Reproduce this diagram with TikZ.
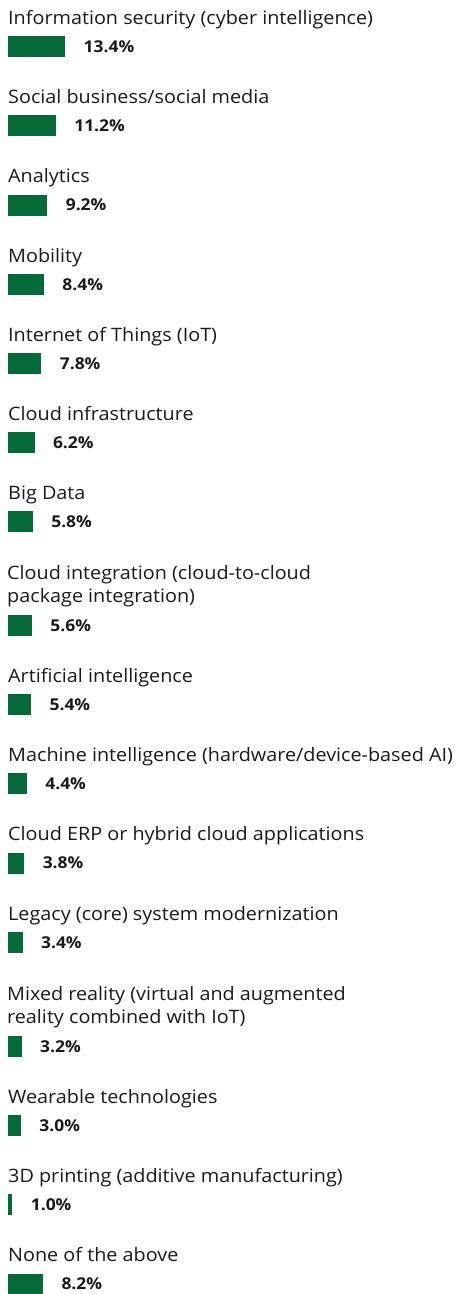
\documentclass[tikz,border=0pt]{standalone}
\usepackage{fontspec}
\setmainfont[FakeStretch=1.07]{Open Sans}
\definecolor{barGreen}{RGB}{4,106,56}
\definecolor{ink}{RGB}{26,26,26}
\begin{document}
\begin{tikzpicture}[x=1pt,y=-1pt,
  cat/.style={anchor=base west, inner sep=0pt, text=ink, font=\fontsize{18.5}{22}\selectfont},
  bar/.style={anchor=north west, inner sep=0pt, fill=barGreen, minimum height=21pt},
  val/.style={anchor=west, inner sep=0pt, text=ink, font=\bfseries\fontsize{16.3}{19}\selectfont}]
\useasboundingbox (0,0) rectangle (460,1294);
% one row per category: caption, bar scaled to the share, share label
\foreach \i/\top/\v/\txt in {
  1/36/13.4/{Information security (cyber intelligence)},
  2/115.2/11.2/{Social business/social media},
  3/194.4/9.2/{Analytics},
  4/273.6/8.4/{Mobility},
  5/352.8/7.8/{Internet of Things (IoT)},
  6/432/6.2/{Cloud infrastructure},
  7/511.2/5.8/{Big Data},
  9/694/5.4/{Artificial intelligence},
  10/773.2/4.4/{Machine intelligence (hardware/device-based AI)},
  11/852.4/3.8/{Cloud ERP or hybrid cloud applications},
  12/931.6/3.4/{Legacy (core) system modernization},
  14/1115/3.0/{Wearable technologies},
  15/1194.2/1.0/{3D printing (additive manufacturing)},
  16/1273.4/8.2/{None of the above}}{
  \node[cat] (cat\i) at (8,\top-11.5) {\txt};
  \node[bar, minimum width=\v*4.26pt] (bar\i) at (8,\top) {};
  \node[val] (val\i) at ([xshift=18pt]bar\i.east) {\v\%};
}
% rows whose caption takes two lines
\foreach \i/\top/\v/\one/\two in {
  8/614.6/5.6/{Cloud integration (cloud-to-cloud}/{package integration)},
  13/1035.6/3.2/{Mixed reality (virtual and augmented}/{reality combined with IoT)}}{
  \node[cat] (cat\i a) at (7,\top-34.7) {\one};
  \node[cat] (cat\i) at (7,\top-11.8) {\two};
  \node[bar, minimum width=\v*4.26pt] (bar\i) at (8,\top) {};
  \node[val] (val\i) at ([xshift=18pt]bar\i.east) {\v\%};
}
\end{tikzpicture}
\end{document}
